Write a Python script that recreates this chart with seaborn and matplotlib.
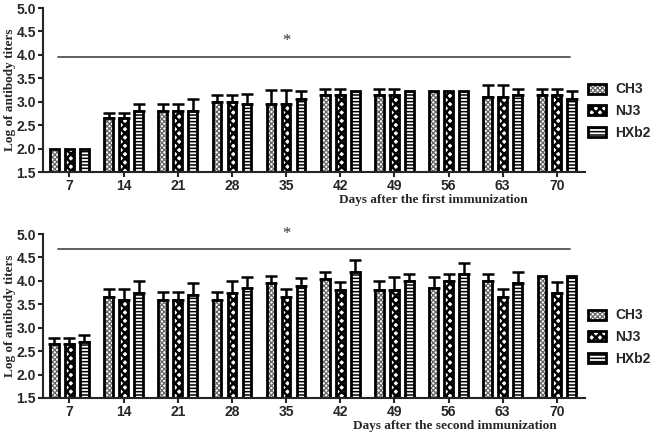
import numpy as np
import pandas as pd
import matplotlib
matplotlib.use("Agg")
import matplotlib.pyplot as plt
import seaborn as sns
from matplotlib.patches import Patch

days = [7, 14, 21, 28, 35, 42, 49, 56, 63, 70]
strains = ["CH3", "NJ3", "HXb2"]

# First immunization
first_ch3 = [2.0, 2.65, 2.8, 3.0, 2.95, 3.15, 3.15, 3.22, 3.1, 3.15]
first_ch3_err = [0, 0.12, 0.15, 0.15, 0.3, 0.12, 0.12, 0, 0.25, 0.12]
first_nj3 = [2.0, 2.65, 2.8, 3.0, 2.95, 3.15, 3.15, 3.22, 3.1, 3.15]
first_nj3_err = [0, 0.12, 0.15, 0.15, 0.3, 0.12, 0.12, 0, 0.25, 0.12]
first_hxb2 = [2.0, 2.8, 2.8, 2.95, 3.05, 3.22, 3.22, 3.22, 3.15, 3.05]
first_hxb2_err = [0, 0.15, 0.25, 0.22, 0.17, 0, 0, 0, 0.12, 0.18]

# Second immunization
second_ch3 = [2.65, 3.65, 3.6, 3.6, 3.95, 4.05, 3.8, 3.85, 4.0, 4.1]
second_ch3_err = [0.13, 0.17, 0.16, 0.16, 0.16, 0.14, 0.2, 0.23, 0.15, 0]
second_nj3 = [2.65, 3.6, 3.6, 3.75, 3.65, 3.8, 3.8, 4.0, 3.65, 3.75]
second_nj3_err = [0.13, 0.23, 0.16, 0.24, 0.17, 0.18, 0.29, 0.15, 0.17, 0.23]
second_hxb2 = [2.7, 3.75, 3.7, 3.85, 3.9, 4.2, 4.0, 4.15, 3.95, 4.1]
second_hxb2_err = [0.15, 0.24, 0.25, 0.24, 0.17, 0.24, 0.15, 0.23, 0.25, 0]

sig_level_first = 3.96
sig_level_second = 4.68

xlabels = ["Days after the first immunization", "Days after the second immunization"]
ylabel = "Log of antibody titers"

sns.set_style("ticks")
plt.rcParams["hatch.linewidth"] = 1.2
plt.rcParams["font.family"] = ["Liberation Sans", "DejaVu Sans"]

hatches = ["xxxxxxx", "xxxx", "-----"]
hatch_colors = [(0.4, 0.4, 0.4, 1), (0, 0, 0, 1), (0, 0, 0, 1)]
hatch_lws = [0.9, 1.8, 1.1]

fig = plt.figure(figsize=(6.5, 4.36), dpi=100)
ax1 = fig.add_axes([0.066, 0.6055, 0.834, 0.376])
ax2 = fig.add_axes([0.066, 0.0872, 0.834, 0.376])

panels = [
    (ax1, [first_ch3, first_nj3, first_hxb2], [first_ch3_err, first_nj3_err, first_hxb2_err], sig_level_first, xlabels[0], 0.72),
    (ax2, [second_ch3, second_nj3, second_hxb2], [second_ch3_err, second_nj3_err, second_hxb2_err], sig_level_second, xlabels[1], 0.76),
]


def style_patch(p, i):
    p.set_hatch(hatches[i])
    p._hatch_color = hatch_colors[i]
    if hasattr(p, "set_hatch_linewidth"):
        p.set_hatch_linewidth(hatch_lws[i])


for ax, vals, errs, sig, xl, xlx in panels:
    rows = []
    for s, v in zip(strains, vals):
        for d, val in zip(days, v):
            rows.append({"day": str(d), "strain": s, "value": val})
    df = pd.DataFrame(rows)
    sns.barplot(data=df, x="day", y="value", hue="strain", hue_order=strains,
                order=[str(d) for d in days], palette=["white"] * 3,
                edgecolor="black", linewidth=2.0, errorbar=None,
                width=0.83, gap=0.42, legend=False, ax=ax, zorder=2)
    bar_conts = list(ax.containers)
    for i, cont in enumerate(bar_conts):
        xs, hs, es = [], [], []
        for p, e in zip(cont.patches, errs[i]):
            style_patch(p, i)
            if e > 0:
                xs.append(p.get_x() + p.get_width() / 2)
                hs.append(p.get_height())
                es.append(e)
        ax.errorbar(xs, hs, yerr=[np.zeros(len(es)), es], fmt="none",
                    ecolor="black", elinewidth=1.8, capsize=4.5, capthick=1.8, zorder=1)
    ax.set_ylim(1.5, 5.0)
    ax.set_xlim(-0.49, 9.52)
    ax.set_yticks([1.5, 2.0, 2.5, 3.0, 3.5, 4.0, 4.5, 5.0])
    ax.set_yticklabels(["%.1f" % t for t in ax.get_yticks()])
    ax.tick_params(axis="both", labelsize=10, width=1.5, length=3.5, pad=1.5)
    for lab in ax.get_xticklabels() + ax.get_yticklabels():
        lab.set_fontweight("bold")
    for sp in ["top", "right"]:
        ax.spines[sp].set_visible(False)
    for sp in ["left", "bottom"]:
        ax.spines[sp].set_linewidth(1.5)
    ax.set_ylabel(ylabel, fontfamily="Liberation Serif", fontweight="bold", fontsize=9.5)
    ax.set_xlabel(xl, fontfamily="Liberation Serif", fontweight="bold", fontsize=9.5)
    ax.xaxis.set_label_coords(xlx, -0.135)
    ax.yaxis.set_label_coords(-0.05, 0.5)
    ax.plot([-0.22, 9.24], [sig, sig], color="#444444", lw=1.2, clip_on=False)
    ax.text(4, sig + 0.33, "*", ha="center", va="center", fontsize=12,
            fontfamily="Liberation Serif", color="#333333", clip_on=False)
    handles = [Patch(facecolor="white", edgecolor="black", hatch=hatches[i], linewidth=2.0, label=s)
               for i, s in enumerate(strains)]
    leg = ax.legend(handles=handles, loc="upper left", bbox_to_anchor=(0.995, 0.58),
                    frameon=False, fontsize=10, handlelength=1.3, handleheight=0.75,
                    labelspacing=0.55, handletextpad=0.7, borderaxespad=0,
                    prop={"weight": "bold", "size": 10})
    for i, h in enumerate(leg.legend_handles):
        style_patch(h, i)

fig.savefig("out.png", dpi=100)
